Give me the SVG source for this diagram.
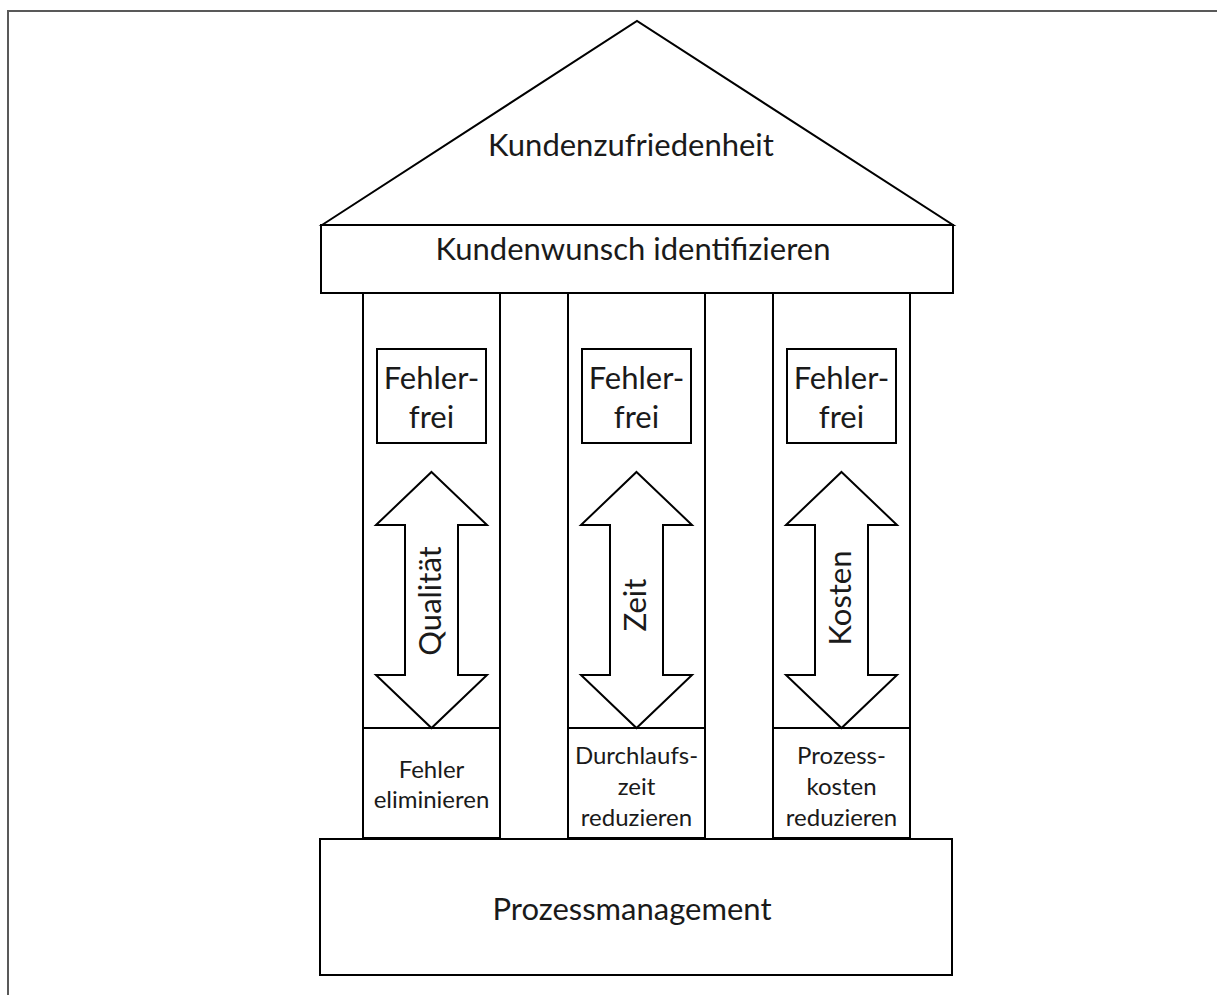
<svg xmlns="http://www.w3.org/2000/svg" width="1217" height="995" viewBox="0 0 1217 995">
  <style>
    .shape { fill: #ffffff; stroke: #000000; stroke-width: 2; stroke-linejoin: miter; }
    .frame { fill: none; stroke: #595959; stroke-width: 2; }
    .big { font-family: Lato, "Liberation Sans", sans-serif; font-size: 31px; fill: #1a1a1a; text-anchor: middle; }
    .small { font-family: Lato, "Liberation Sans", sans-serif; font-size: 24px; fill: #1a1a1a; text-anchor: middle; }
  </style>
  <defs>
    <!-- double-headed block arrow, centred on x=0 -->
    <path id="dblArrow" d="M0,472 L55.5,525 L26.5,525 L26.5,675 L55.5,675 L0,728 L-55.5,675 L-26.5,675 L-26.5,525 L-55.5,525 Z"/>
  </defs>
  <rect width="1217" height="995" fill="#ffffff"/>

  <!-- outer frame: top and left edges -->
  <path class="frame" d="M1217,11 L8,11 L8,995"/>

  <g id="connectors"></g>

  <!-- roof -->
  <g id="roof">
    <polygon class="shape" points="322,225 637,21 953,225"/>
    <text class="big" x="631" y="156">Kundenzufriedenheit</text>
  </g>

  <!-- architrave -->
  <g id="banner">
    <rect class="shape" x="321" y="225" width="632" height="68"/>
    <text class="big" x="633" y="260">Kundenwunsch identifizieren</text>
  </g>

  <!-- pillar 1: quality -->
  <g id="pillar-qualitaet">
    <rect class="shape" x="363" y="293" width="137" height="545"/>
    <line class="shape" x1="363" y1="728" x2="500" y2="728"/>
    <rect class="shape" x="377" y="349" width="109" height="94"/>
    <text class="big" x="431.5" y="389">Fehler-</text>
    <text class="big" x="431.5" y="428">frei</text>
    <use href="#dblArrow" class="shape" transform="translate(431.5,0)"/>
    <text class="big" transform="translate(441,601) rotate(-90)">Qualität</text>
    <text class="small" x="431.5" y="778">Fehler</text>
    <text class="small" x="431.5" y="808">eliminieren</text>
  </g>

  <!-- pillar 2: time -->
  <g id="pillar-zeit">
    <rect class="shape" x="568" y="293" width="137" height="545"/>
    <line class="shape" x1="568" y1="728" x2="705" y2="728"/>
    <rect class="shape" x="582" y="349" width="109" height="94"/>
    <text class="big" x="636.5" y="389">Fehler-</text>
    <text class="big" x="636.5" y="428">frei</text>
    <use href="#dblArrow" class="shape" transform="translate(636.5,0)"/>
    <text class="big" transform="translate(646,605) rotate(-90)">Zeit</text>
    <text class="small" x="636.5" y="764">Durchlaufs-</text>
    <text class="small" x="636.5" y="795">zeit</text>
    <text class="small" x="636.5" y="826">reduzieren</text>
  </g>

  <!-- pillar 3: cost -->
  <g id="pillar-kosten">
    <rect class="shape" x="773" y="293" width="137" height="545"/>
    <line class="shape" x1="773" y1="728" x2="910" y2="728"/>
    <rect class="shape" x="787" y="349" width="109" height="94"/>
    <text class="big" x="841.5" y="389">Fehler-</text>
    <text class="big" x="841.5" y="428">frei</text>
    <use href="#dblArrow" class="shape" transform="translate(841.5,0)"/>
    <text class="big" transform="translate(851,598) rotate(-90)">Kosten</text>
    <text class="small" x="841.5" y="764">Prozess-</text>
    <text class="small" x="841.5" y="795">kosten</text>
    <text class="small" x="841.5" y="826">reduzieren</text>
  </g>

  <!-- foundation -->
  <g id="foundation">
    <rect class="shape" x="320" y="839" width="632" height="136"/>
    <text class="big" x="632" y="920">Prozessmanagement</text>
  </g>
</svg>
